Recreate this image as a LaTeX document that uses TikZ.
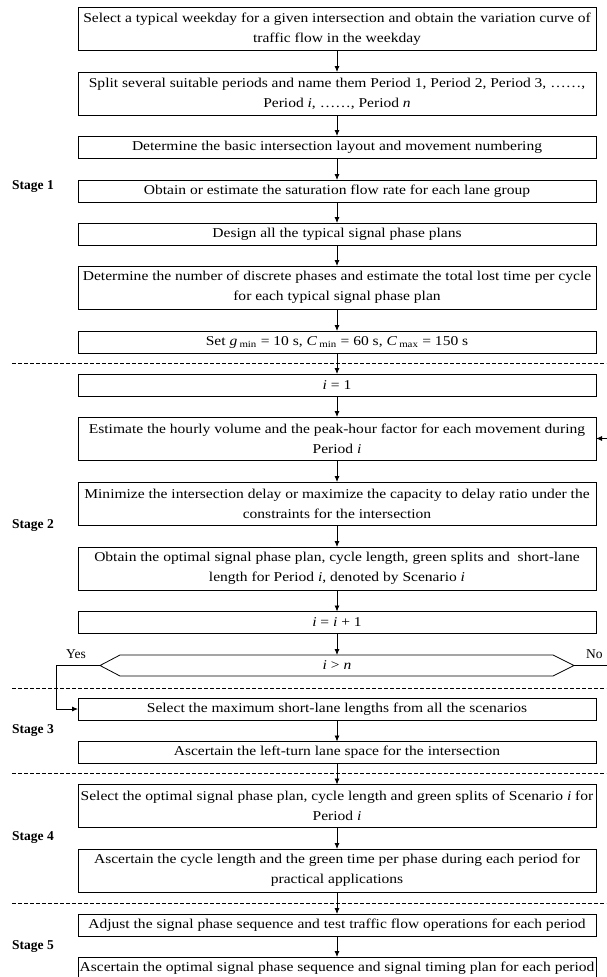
\documentclass[tikz,border=0pt]{standalone}
\usepackage{fontspec}
\setmainfont{Liberation Serif}[FakeStretch=1.15]
\newfontfamily\plainfont{Liberation Serif}
\usetikzlibrary{arrows.meta}
\newcommand\figfont{\fontsize{13.5}{20}\selectfont}
\begin{document}
\begin{tikzpicture}[x=1pt,y=-1pt,
  box/.style={draw, line width=0.8pt, minimum width=518pt, minimum height=22pt, align=center, inner sep=0pt, outer sep=0pt, font=\figfont},
  tallbox/.style={box, minimum height=43pt},
  arr/.style={line width=0.8pt, -{Latex[length=6pt,width=5pt]}},
  stagelbl/.style={anchor=west, inner sep=0pt, font=\plainfont\figfont\bfseries},
  sep/.style={dashed, dash pattern=on 3.5pt off 2.5pt, line width=0.7pt},
  lbl/.style={inner sep=0pt, font=\figfont},
  yn/.style={inner sep=0pt, font=\plainfont\figfont}]
\useasboundingbox (0,0) rectangle (606,977);
\fill[white] (0,0) rectangle (606,977);

% Stage 1
\node[tallbox] (b1) at (337,29) {Select a typical weekday for a given intersection and obtain the variation curve of\\traffic flow in the weekday};
\node[tallbox] (b2) at (337,93.5) {Split several suitable periods and name them Period 1, Period 2, Period 3, ……,\\Period \textit{i}, ……, Period \textit{n}};
\node[box] (b3) at (337,147) {Determine the basic intersection layout and movement numbering};
\node[box] (b4) at (337,191) {Obtain or estimate the saturation flow rate for each lane group};
\node[box] (b5) at (337,234) {Design all the typical signal phase plans};
\node[tallbox] (b6) at (337,287.5) {Determine the number of discrete phases and estimate the total lost time per cycle\\for each typical signal phase plan};
\node[box] (b7) at (337,342) {Set \textit{g}\,\textsubscript{min} = 10 s, \textit{C}\,\textsubscript{min} = 60 s, \textit{C}\,\textsubscript{max} = 150 s};

% Stage 2
\node[box] (b8) at (337,385) {\textit{i} = 1};
\node[tallbox] (b9) at (337,438.5) {Estimate the hourly volume and the peak-hour factor for each movement during\\Period \textit{i}};
\node[tallbox] (b10) at (337,503.5) {Minimize the intersection delay or maximize the capacity to delay ratio under the\\constraints for the intersection};
\node[tallbox] (b11) at (337,568.5) {Obtain the optimal signal phase plan, cycle length, green splits and\ \ short-lane\\length for Period \textit{i}, denoted by Scenario \textit{i}};
\node[box] (b12) at (337,622.5) {\textit{i} = \textit{i} + 1};
\node[lbl, minimum width=474pt, minimum height=21pt, outer sep=0pt] (hex) at (337,665.5) {\textit{i} > \textit{n}};
\draw[line width=0.8pt] (hex.west) -- ([xshift=20pt]hex.north west) -- ([xshift=-21pt]hex.north east) -- (hex.east) -- ([xshift=-21pt]hex.south east) -- ([xshift=20pt]hex.south west) -- cycle;

% Stage 3
\node[box] (b13) at (337,709) {Select the maximum short-lane lengths from all the scenarios};
\node[box] (b14) at (337,752.5) {Ascertain the left-turn lane space for the intersection};

% Stage 4
\node[tallbox] (b15) at (337,806) {Select the optimal signal phase plan, cycle length and green splits of Scenario \textit{i} for\\Period \textit{i}};
\node[tallbox] (b16) at (337,870.5) {Ascertain the cycle length and the green time per phase during each period for\\practical applications};

% Stage 5
\node[box] (b17) at (337,925) {Adjust the signal phase sequence and test traffic flow operations for each period};
\node[box] (b18) at (337,968) {Ascertain the optimal signal phase sequence and signal timing plan for each period};

% stage labels
\node[stagelbl] (s1) at (12,187) {Stage 1};
\node[stagelbl] (s2) at (12,526) {Stage 2};
\node[stagelbl] (s3) at (12,731) {Stage 3};
\node[stagelbl] (s4) at (12,838) {Stage 4};
\node[stagelbl] (s5) at (12,947) {Stage 5};

% separators
\coordinate (d1l) at (12,363); \coordinate (d1r) at (606,363);
\coordinate (d2l) at (12,688); \coordinate (d2r) at (606,688);
\coordinate (d3l) at (12,773); \coordinate (d3r) at (606,773);
\coordinate (d4l) at (12,903); \coordinate (d4r) at (606,903);
\draw[sep] (d1l) -- (d1r);
\draw[sep] (d2l) -- (d2r);
\draw[sep] (d3l) -- (d3r);
\draw[sep] (d4l) -- (d4r);

% main arrows
\foreach \a/\b in {b1/b2,b2/b3,b3/b4,b4/b5,b5/b6,b6/b7,b7/b8,b8/b9,b9/b10,b10/b11,b11/b12,b12/hex,b13/b14,b14/b15,b15/b16,b16/b17,b17/b18}
  \draw[arr] (\a.south) -- (\b.north);

% Yes branch
\coordinate (yesc) at (56,665.5);
\draw[arr] (hex.west) -- (yesc) |- (b13.west);
\node[yn] (yes) at (76,654) {Yes};

% No branch (loops back beyond the right edge)
\coordinate (noc) at (616,665.5);
\draw[arr] (hex.east) -- (noc) |- (b9.east);
\node[yn, anchor=west] (no) at (586,654) {No};
\end{tikzpicture}
\end{document}
